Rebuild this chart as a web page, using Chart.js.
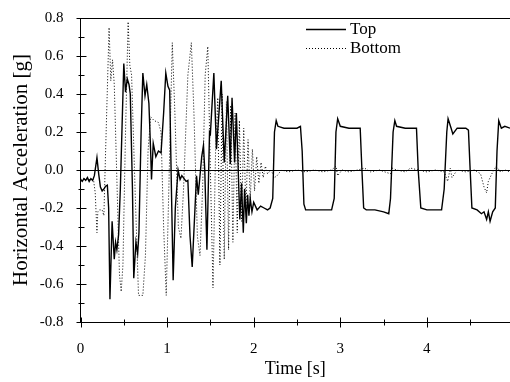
<!DOCTYPE html>
<html>
<head>
<meta charset="utf-8">
<script src="https://cdn.jsdelivr.net/npm/chart.js@4"></script>
<style>
  body { margin: 0; background: #fff; }
  canvas { display: block; }
</style>
</head>
<body>
<canvas id="accChart" width="510" height="382"></canvas>
<script>
// Top sensor (solid line)
const topTime = [0.00, 0.02, 0.04, 0.06, 0.08, 0.10, 0.12, 0.14, 0.16, 0.19, 0.21, 0.23, 0.25, 0.27, 0.29, 0.31, 0.325, 0.34, 0.365, 0.39, 0.405, 0.42, 0.44, 0.46, 0.50, 0.52, 0.54, 0.56, 0.575, 0.60, 0.615, 0.64, 0.66, 0.675, 0.70, 0.72, 0.745, 0.765, 0.79, 0.81, 0.82, 0.84, 0.87, 0.90, 0.93, 0.96, 0.985, 1.01, 1.03, 1.05, 1.07, 1.095, 1.127, 1.15, 1.17, 1.22, 1.24, 1.265, 1.29, 1.34, 1.36, 1.40, 1.42, 1.435, 1.46, 1.49, 1.50, 1.54, 1.57, 1.625, 1.66, 1.70, 1.73, 1.75, 1.78, 1.80, 1.84, 1.86, 1.88, 1.895, 1.915, 1.93, 1.945, 1.96, 1.98, 2.00, 2.04, 2.08, 2.12, 2.16, 2.19, 2.22, 2.24, 2.26, 2.28, 2.35, 2.42, 2.50, 2.54, 2.56, 2.58, 2.60, 2.70, 2.80, 2.90, 2.93, 2.95, 2.97, 3.00, 3.10, 3.20, 3.23, 3.25, 3.27, 3.30, 3.40, 3.50, 3.56, 3.58, 3.61, 3.63, 3.65, 3.75, 3.85, 3.88, 3.90, 3.93, 4.00, 4.10, 4.17, 4.20, 4.23, 4.245, 4.28, 4.30, 4.35, 4.45, 4.48, 4.50, 4.52, 4.58, 4.63, 4.66, 4.69, 4.71, 4.73, 4.76, 4.79, 4.81, 4.83, 4.86, 4.90, 4.96];
const topAcc = [-0.05, -0.06, -0.045, -0.055, -0.04, -0.06, -0.045, -0.055, -0.03, 0.065, -0.02, -0.09, -0.11, -0.10, -0.085, -0.08, -0.20, -0.68, -0.27, -0.47, -0.38, -0.42, -0.34, -0.10, 0.56, 0.41, 0.48, 0.45, 0.40, -0.10, -0.57, -0.38, -0.44, -0.33, 0.20, 0.51, 0.39, 0.45, 0.35, 0.10, -0.05, 0.14, 0.07, 0.10, 0.09, 0.30, 0.51, 0.44, 0.42, -0.10, -0.58, -0.20, 0.00, -0.05, -0.03, -0.06, -0.055, -0.35, -0.51, -0.03, -0.13, 0.07, 0.13, 0.00, -0.42, 0.20, 0.19, 0.51, 0.11, 0.47, 0.04, 0.39, 0.03, 0.38, 0.04, 0.30, -0.26, -0.07, -0.33, -0.10, -0.28, -0.13, -0.24, -0.15, -0.22, -0.17, -0.21, -0.19, -0.20, -0.21, -0.20, -0.15, 0.20, 0.26, 0.23, 0.22, 0.22, 0.22, 0.23, 0.10, -0.18, -0.21, -0.21, -0.21, -0.21, -0.15, 0.20, 0.27, 0.23, 0.22, 0.22, 0.22, 0.00, -0.20, -0.21, -0.21, -0.22, -0.23, -0.15, 0.20, 0.26, 0.23, 0.22, 0.22, 0.22, 0.00, -0.20, -0.21, -0.21, -0.21, -0.10, 0.20, 0.27, 0.22, 0.19, 0.22, 0.22, 0.21, 0.00, -0.20, -0.21, -0.23, -0.22, -0.26, -0.22, -0.27, -0.22, -0.20, 0.10, 0.26, 0.22, 0.23, 0.22];

// Bottom sensor (dotted line)
const bottomTime = [0.00, 0.05, 0.10, 0.15, 0.17, 0.19, 0.20, 0.22, 0.25, 0.27, 0.29, 0.33, 0.35, 0.37, 0.39, 0.42, 0.45, 0.47, 0.49, 0.52, 0.55, 0.57, 0.59, 0.63, 0.67, 0.72, 0.75, 0.78, 0.81, 0.85, 0.90, 0.93, 0.96, 0.99, 1.02, 1.06, 1.09, 1.13, 1.16, 1.19, 1.24, 1.28, 1.31, 1.35, 1.38, 1.41, 1.44, 1.47, 1.50, 1.53, 1.56, 1.585, 1.61, 1.635, 1.66, 1.685, 1.71, 1.735, 1.76, 1.785, 1.81, 1.835, 1.86, 1.885, 1.91, 1.935, 1.96, 1.985, 2.01, 2.035, 2.06, 2.085, 2.11, 2.135, 2.16, 2.20, 2.24, 2.27, 2.32, 2.40, 2.50, 2.60, 2.70, 2.80, 2.90, 2.95, 2.97, 3.02, 3.10, 3.20, 3.28, 3.35, 3.45, 3.58, 3.60, 3.65, 3.75, 3.81, 3.90, 4.00, 4.10, 4.20, 4.24, 4.27, 4.29, 4.35, 4.45, 4.55, 4.62, 4.66, 4.69, 4.71, 4.75, 4.80, 4.85, 4.90, 4.96];
const bottomAcc = [-0.05, -0.045, -0.05, -0.05, -0.12, -0.33, -0.22, -0.21, -0.21, -0.24, 0.10, 0.75, 0.47, 0.58, 0.45, -0.05, -0.55, -0.64, -0.50, 0.20, 0.78, 0.55, 0.50, -0.10, -0.66, -0.66, -0.45, 0.10, 0.28, 0.26, 0.25, 0.20, -0.30, -0.66, -0.10, 0.67, 0.30, -0.30, -0.36, -0.10, 0.50, 0.67, 0.30, -0.35, -0.45, -0.10, 0.50, 0.65, 0.00, -0.62, 0.10, 0.38, -0.50, 0.40, -0.47, 0.36, -0.42, 0.34, -0.38, 0.30, -0.33, 0.26, -0.27, 0.22, -0.22, 0.16, -0.16, 0.11, -0.11, 0.07, -0.07, 0.04, -0.04, 0.02, -0.02, 0.00, -0.04, -0.03, 0.00, -0.01, 0.00, -0.01, 0.00, -0.01, 0.00, 0.02, -0.03, 0.00, -0.01, 0.00, 0.01, -0.01, 0.00, -0.02, 0.01, 0.00, -0.01, 0.01, 0.00, -0.01, 0.00, -0.01, -0.06, 0.01, -0.04, 0.00, -0.01, 0.00, -0.02, -0.09, -0.12, -0.06, -0.02, 0.02, -0.01, 0.00, -0.01];

const seriesNames = ['Top', 'Bottom'];
const yTicks = [-0.8, -0.6, -0.4, -0.2, 0.0, 0.2, 0.4, 0.6, 0.8];
const xTicks = [0, 1, 2, 3, 4];

const serif = "'Liberation Serif', 'DejaVu Serif', serif";

const toPoints = (ts, vs) => ts.map((t, i) => ({ x: t, y: vs[i] }));

// box top line, zero line, crossing ticks and the legend
const framePlugin = {
    id: 'frame',
    beforeDatasetsDraw(chart) {
        const { ctx, chartArea: a, scales: { y } } = chart;
        const y0 = Math.round(y.getPixelForValue(0)) + 0.5;
        ctx.save();
        ctx.strokeStyle = '#000';
        ctx.lineWidth = 1;
        ctx.beginPath();
        ctx.moveTo(a.left, y0);
        ctx.lineTo(a.right, y0);
        ctx.stroke();
        ctx.restore();
    },
    afterDraw(chart) {
        const { ctx, chartArea: a, scales: { x, y } } = chart;
        ctx.save();
        ctx.strokeStyle = '#000';
        ctx.lineWidth = 1;
        ctx.beginPath();
        ctx.moveTo(a.left, a.top + 0.5);
        ctx.lineTo(a.right, a.top + 0.5);
        const lx = Math.round(a.left) + 0.5;
        for (let k = -8; k <= 8; k++) {
            const py = Math.round(y.getPixelForValue(k / 10)) + 0.5;
            const len = k % 2 === 0 ? 5 : 3;
            ctx.moveTo(lx - len, py);
            ctx.lineTo(lx + len, py);
        }
        const by = Math.round(a.bottom) + 0.5;
        for (let k = 0; k <= 9; k++) {
            const px = Math.round(x.getPixelForValue(k / 2)) + 0.5;
            const len = k % 2 === 0 ? 5 : 3;
            ctx.moveTo(px, by - len);
            ctx.lineTo(px, by + len);
        }
        ctx.stroke();

        // legend
        const ds = chart.data.datasets;
        ctx.font = '17px ' + serif;
        ctx.fillStyle = '#000';
        ctx.textBaseline = 'middle';
        ds.forEach((d, i) => {
            const ly = 29.5 + i * 19;
            ctx.setLineDash(d.borderDash || []);
            ctx.lineWidth = d.borderWidth;
            ctx.beginPath();
            ctx.moveTo(306, ly);
            ctx.lineTo(346, ly);
            ctx.stroke();
            ctx.setLineDash([]);
            ctx.fillText(d.label, 350, ly);
        });
        ctx.restore();
    }
};

const chart = new Chart(document.getElementById('accChart').getContext('2d'), {
    type: 'line',
    data: {
        datasets: [
            {
                label: seriesNames[0],
                data: toPoints(topTime, topAcc),
                borderColor: '#000',
                borderWidth: 1.4,
                pointRadius: 0,
                tension: 0,
                fill: false
            },
            {
                label: seriesNames[1],
                data: toPoints(bottomTime, bottomAcc),
                borderColor: '#000',
                borderWidth: 1,
                borderDash: [1, 2],
                pointRadius: 0,
                tension: 0,
                fill: false
            }
        ]
    },
    options: {
        responsive: false,
        animation: false,
        devicePixelRatio: 1,
        layout: { padding: { top: 14, right: 0, bottom: 0, left: 0 } },
        plugins: {
            legend: { display: false },
            tooltip: { enabled: false }
        },
        scales: {
            x: {
                type: 'linear',
                min: 0,
                max: 4.96,
                afterFit: s => { s.height = 60; },
                afterBuildTicks: s => { s.ticks = xTicks.map(v => ({ value: v })); },
                grid: { display: false },
                border: { display: true, color: '#000', width: 1 },
                ticks: {
                    color: '#000',
                    padding: 10,
                    maxRotation: 0,
                    font: { family: serif, size: 15 },
                    callback: v => String(v)
                },
                title: {
                    display: true,
                    text: 'Time [s]',
                    color: '#000',
                    font: { family: serif, size: 18 },
                    padding: { top: 0, bottom: 2 }
                }
            },
            y: {
                min: -0.8,
                max: 0.8,
                afterFit: s => { s.width = 80.5; },
                afterBuildTicks: s => { s.ticks = yTicks.map(v => ({ value: v })); },
                grid: { display: false },
                border: { display: true, color: '#000', width: 1 },
                ticks: {
                    color: '#000',
                    padding: 9,
                    font: { family: serif, size: 15 },
                    callback: v => v.toFixed(1)
                },
                title: {
                    display: true,
                    text: 'Horizontal Acceleration [g]',
                    color: '#000',
                    font: { family: serif, size: 21 },
                    padding: { top: 9, bottom: 0 }
                }
            }
        }
    },
    plugins: [framePlugin]
});
</script>
</body>
</html>
